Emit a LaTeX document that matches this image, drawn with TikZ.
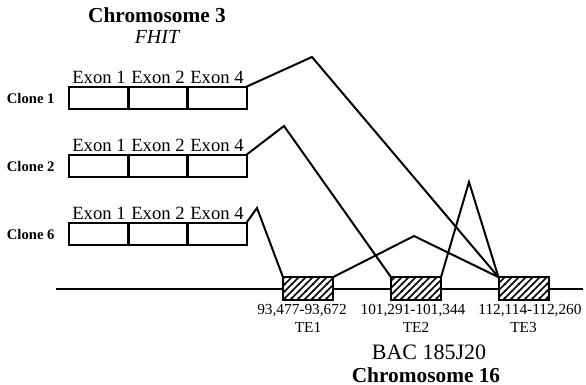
\documentclass[tikz,border=0pt]{standalone}
\usepackage{fontspec}
\setmainfont{Liberation Serif}
\usetikzlibrary{patterns.meta}

\tikzdeclarepattern{
  name=tehatch, type=uncolored,
  bounding box={(0,0) and (5.5pt,5.5pt)},
  tile size={(5.5pt,5.5pt)},
  code={
    \draw[line width=1.3pt] (-1pt,-1pt) -- (6.5pt,6.5pt);
    \draw[line width=1.3pt] (-1pt,4.5pt) -- (1pt,6.5pt);
    \draw[line width=1.3pt] (4.5pt,-1pt) -- (6.5pt,1pt);
  }}

\begin{document}
\begin{tikzpicture}[x=0.75pt, y=-0.75pt, line width=1.5pt,
  exon/.style={draw, minimum width=44.3pt, minimum height=17pt, inner sep=0pt, outer sep=0pt},
  te/.style={draw, preaction={fill=white}, pattern=tehatch, minimum width=37.5pt, minimum height=17pt, inner sep=0pt, outer sep=0pt},
  exlab/.style={font=\fontsize{14}{15}\selectfont, inner sep=1.5pt},
  clonelab/.style={font=\fontsize{11}{12}\selectfont\bfseries, anchor=east},
  telab/.style={font=\fontsize{11.5}{12}\selectfont, inner sep=0pt},
  title/.style={font=\fontsize{16}{17}\selectfont\bfseries}]
\useasboundingbox (0,0) rectangle (586,385);

% ---------- chromosome 3 clones ----------
\node[title] (chr3) at (157,15) {Chromosome 3};
\node[font=\fontsize{15}{16}\selectfont\itshape] (fhit) at (157,37) {FHIT};

\foreach \c/\y in {1/98, 2/166, 6/234} {
  \node[clonelab] (lab\c) at (60,\y) {Clone \c};
  \node[exon, label={[exlab]above:Exon 1}] (c\c e1) at (99,\y) {};
  \node[exon, label={[exlab]above:Exon 2}] (c\c e2) at (158,\y) {};
  \node[exon, label={[exlab]above:Exon 4}] (c\c e4) at (217,\y) {};
}

% ---------- BAC line with TE boxes ----------
\node[te] (te1) at (308,288.5) {};
\node[te] (te2) at (416,288.5) {};
\node[te] (te3) at (523.5,288.5) {};
\coordinate (bl) at (56,288.5);
\coordinate (br) at (583,288.5);
\draw (bl) -- (te1.west) (te1.east) -- (te2.west) (te2.east) -- (te3.west) (te3.east) -- (br);

% positions (slightly off-centre, as printed) and TE names
\node[telab] (te1pos) at (302,311) {93,477-93,672};
\node[telab] (te2pos) at (413,311) {101,291-101,344};
\node[telab] (te3pos) at (530,311) {112,114-112,260};
\node[telab] (te1name) at (te1.center |- 0,327) {TE1};
\node[telab] (te2name) at (te2.center |- 0,327) {TE2};
\node[telab] (te3name) at (te3.center |- 0,327) {TE3};

% ---------- splice connectors ----------
\coordinate (pk1) at (312,57);
\coordinate (pk2) at (284,126);
\coordinate (pk6) at (257,208);
\coordinate (pkA) at (414,236);
\coordinate (pkB) at (469,182);
\draw (c1e4.north east) -- (pk1) -- (te3.north west);
\draw (c2e4.north east) -- (pk2) -- (te2.north west);
\draw (c6e4.north east) -- (pk6) -- (te1.north west);
\draw (te1.north east) -- (pkA) -- (te3.north west);
\draw (te2.north east) -- (pkB) -- (te3.north west);

% ---------- chromosome 16 ----------
\node[font=\fontsize{16.5}{17}\selectfont] (bac) at (429,352) {BAC 185J20};
\node[title] (chr16) at (426,375) {Chromosome 16};
\end{tikzpicture}
\end{document}
